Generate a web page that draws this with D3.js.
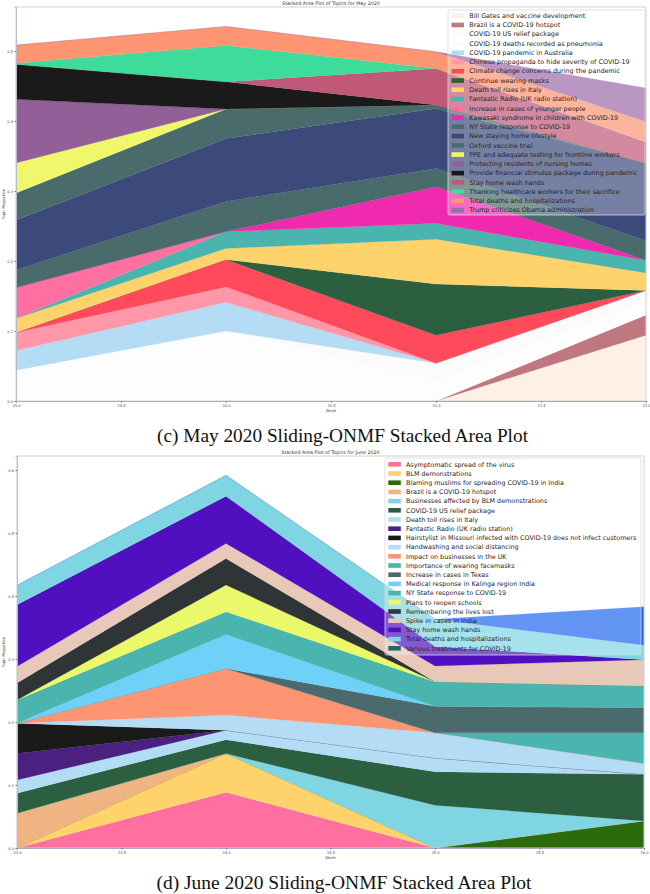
<!DOCTYPE html>
<html><head><meta charset="utf-8">
<script src="https://cdn.jsdelivr.net/npm/d3@7"></script>
<style>body{margin:0;background:#fff} svg{display:block}</style>
</head><body>
<svg id="c" width="650" height="894"></svg>
<script>
// ---------------- May 2020 ----------------
const mayWeeks = [19, 20, 21, 22];
const mayTopics = [
  "Bill Gates and vaccine development",
  "Brazil is a COVID-19 hotspot",
  "COVID-19 US relief package",
  "COVID-19 deaths recorded as pneumonia",
  "COVID-19 pandemic in Australia",
  "Chinese propaganda to hide severity of COVID-19",
  "Climate change concerns during the pandemic",
  "Continue wearing masks",
  "Death toll rises in Italy",
  "Fantastic Radio (UK radio station)",
  "Increase in cases of younger people",
  "Kawasaki syndrome in children with COVID-19",
  "NY State response to COVID-19",
  "New staying home lifestyle",
  "Oxford vaccine trial",
  "PPE and adequate testing for frontline workers",
  "Protecting residents of nursing homes",
  "Provide financial stimulus package during pandemic",
  "Stay home wash hands",
  "Thanking healthcare workers for their sacrifice",
  "Total deaths and hospitalizations",
  "Trump criticizes Obama administration"
];
const mayColors = ["#fdf0e6","#c07880","#fdfdfd","#fbfbfb","#b5dcf5","#ff97a8","#ff4a5c","#2b5f3f",
  "#ffd36b","#4ab5ae","#ff6fa0","#f02aae","#4a6b6b","#3b4a7b","#4a6b6b","#eef86a","#935f99",
  "#1a1a1a","#c05878","#3ddc9a","#fd9472","#9b6aa8"];
// one row per topic, values for weeks 19..22
const mayValues = [
  [0, 0, 0, 0.094],
  [0, 0, 0, 0.029],
  [0.044, 0.100, 0.030, 0.020],
  [0, 0, 0.024, 0.015],
  [0.028, 0.041, 0, 0],
  [0.026, 0.022, 0, 0],
  [0, 0.039, 0.040, 0],
  [0, 0, 0.073, 0],
  [0.020, 0.016, 0.064, 0.025],
  [0, 0.024, 0.023, 0.018],
  [0.044, 0, 0, 0],
  [0, 0, 0.052, 0],
  [0.025, 0.043, 0.026, 0.028],
  [0.0714, 0.090, 0.086, 0.111],
  [0.0386, 0.042, 0.005, 0],
  [0.043, 0, 0, 0],
  [0.091, 0, 0, 0],
  [0.050, 0.039, 0, 0],
  [0, 0, 0.052, 0.030],
  [0.0015, 0.052, 0, 0],
  [0.026, 0.027, 0.024, 0.029],
  [0, 0, 0, 0.048]
];
const mayXTicks = [19.0, 19.5, 20.0, 20.5, 21.0, 21.5, 22.0];
const mayYTicks = [0.0, 0.1, 0.2, 0.3, 0.4, 0.5];

// ---------------- June 2020 ----------------
const juneWeeks = [23, 24, 25, 26];
const juneTopics = [
  "Asymptomatic spread of the virus",
  "BLM demonstrations",
  "Blaming muslims for spreading COVID-19 in India",
  "Brazil is a COVID-19 hotspot",
  "Businesses affected by BLM demonstrations",
  "COVID-19 US relief package",
  "Death toll rises in Italy",
  "Fantastic Radio (UK radio station)",
  "Hairstylist in Missouri infected with COVID-19 does not infect customers",
  "Handwashing and social distancing",
  "Impact on businesses in the UK",
  "Importance of wearing facemasks",
  "Increase in cases in Texas",
  "Medical response in Kalinga region India",
  "NY State response to COVID-19",
  "Plans to reopen schools",
  "Remembering the lives lost",
  "Spike in cases in India",
  "Stay home wash hands",
  "Total deaths and hospitalizations",
  "Various treatments for COVID-19"
];
const juneColors = ["#ff6fa0","#ffd36b","#2d6a0e","#f0b482","#7fd6e2","#2b5f3f","#b5dcf5","#4a2080",
  "#1a1a1a","#b5dcf5","#fd9472","#4ab5ae","#4a6a6e","#6fd0f8","#4ab5ae","#eaf86a","#2f3436",
  "#e8c8b8","#5010c0","#7fd6e2","#1f66ee"];
// legend patch colours (as shown in the legend box)
const juneLegendColors = juneColors.slice(0, 20).concat(["#26656e"]);
// one row per topic, values for weeks 23..26
const juneValues = [
  [0, 0.0884, 0, 0],
  [0, 0.0616, 0, 0],
  [0, 0, 0, 0.043],
  [0.055, 0, 0, 0],
  [0, 0, 0.068, 0],
  [0.032, 0.022, 0.053, 0.074],
  [0.021, 0.015, 0.022, 0],
  [0.042, 0, 0, 0],
  [0.048, 0, 0, 0],
  [0, 0.024, 0.040, 0.017],
  [0, 0.074, 0, 0],
  [0, 0, 0, 0.049],
  [0, 0, 0.042, 0.040],
  [0, 0.054, 0, 0],
  [0.037, 0.036, 0.039, 0.034],
  [0, 0.0425, 0, 0],
  [0.027, 0.042, 0, 0],
  [0.026, 0.024, 0.025, 0.042],
  [0.098, 0.075, 0.031, 0],
  [0.031, 0.033, 0.043, 0.023],
  [0, 0, 0, 0.061]
];
const juneXTicks = [23.0, 23.5, 24.0, 24.5, 25.0, 25.5, 26.0];
const juneYTicks = [0.0, 0.1, 0.2, 0.3, 0.4, 0.5, 0.6];

const svg = d3.select("#c");

function drawChart(cfg) {
  const g = svg.append("g");
  const x = d3.scaleLinear().domain(cfg.xDomain).range([cfg.left, cfg.right]);
  const y = d3.scaleLinear().domain([0, cfg.yMax]).range([cfg.bottom, cfg.top]);

  const rows = cfg.weeks.map((w, i) => {
    const r = {week: w};
    cfg.topics.forEach((t, k) => r[t] = cfg.values[k][i]);
    return r;
  });
  const series = d3.stack().keys(cfg.topics)(rows);
  const area = d3.area()
    .x(d => x(d.data.week))
    .y0(d => y(d[0]))
    .y1(d => y(d[1]));

  g.append("g").selectAll("path").data(series).join("path")
    .attr("d", area)
    .attr("fill", (d, i) => cfg.colors[i])
    .attr("stroke", (d, i) => cfg.colors[i])
    .attr("stroke-width", 0.2);

  // frame
  g.append("rect").attr("x", cfg.left).attr("y", cfg.top)
    .attr("width", cfg.right - cfg.left).attr("height", cfg.bottom - cfg.top)
    .attr("fill", "none").attr("stroke", "#d2d2d2").attr("stroke-width", 1);

  const xa = g.append("g").attr("transform", `translate(0,${cfg.bottom})`)
    .call(d3.axisBottom(x).tickValues(cfg.xTicks).tickFormat(d3.format(".1f")).tickSize(1.5).tickPadding(1.5));
  const ya = g.append("g").attr("transform", `translate(${cfg.left},0)`)
    .call(d3.axisLeft(y).tickValues(cfg.yTicks).tickFormat(d3.format(".1f")).tickSize(1.5).tickPadding(1.5));
  xa.select(".domain").attr("stroke", "#a8aac8").attr("stroke-width", 1);
  ya.select(".domain").attr("stroke", "#b8bacc").attr("stroke-width", 1);
  [xa, ya].forEach(a => {
    a.selectAll(".tick line").attr("stroke", "#777");
    a.selectAll("text").attr("font-family", "DejaVu Sans").attr("font-size", 3.7).attr("fill", "#444");
  });

  g.append("text").attr("x", (cfg.left + cfg.right) / 2).attr("y", cfg.top - 2)
    .attr("text-anchor", "middle").attr("font-family", "DejaVu Sans").attr("font-size", 4.8)
    .attr("fill", "#333").text(cfg.title);
  g.append("text").attr("x", (cfg.left + cfg.right) / 2).attr("y", cfg.bottom + 11)
    .attr("text-anchor", "middle").attr("font-family", "DejaVu Sans").attr("font-size", 3.8)
    .attr("fill", "#444").text("Week");
  g.append("text").attr("transform", `translate(5,${(cfg.top + cfg.bottom) / 2}) rotate(-90)`)
    .attr("text-anchor", "middle").attr("font-family", "DejaVu Sans").attr("font-size", 3.8)
    .attr("fill", "#444").text("Topic Proportion");

  // legend
  const L = cfg.legend;
  const lg = g.append("g");
  lg.append("rect").attr("x", L.x).attr("y", L.y).attr("width", L.w).attr("height", L.h)
    .attr("fill", "#fff").attr("fill-opacity", 0.3).attr("stroke", "#d8d8d8").attr("stroke-width", 0.8)
    .attr("rx", 1.5);
  cfg.topics.forEach((t, i) => {
    const cy = L.firstRow + i * L.step;
    lg.append("rect").attr("x", L.patchX).attr("y", cy - 2.3).attr("width", 12.5).attr("height", 4.6)
      .attr("fill", cfg.legendColors[i]);
    lg.append("text").attr("x", L.textX).attr("y", cy + 2.2)
      .attr("font-family", "DejaVu Sans").attr("font-size", L.fs).attr("fill", "#262626").text(t);
  });

  // caption
  svg.append("text").attr("x", cfg.capX).attr("y", cfg.capY).attr("text-anchor", "middle")
    .attr("font-family", "Liberation Serif").attr("font-size", 18).attr("fill", "#111")
    .attr("textLength", cfg.capW).attr("lengthAdjust", "spacingAndGlyphs")
    .text(cfg.caption);
}

drawChart({
  weeks: mayWeeks, topics: mayTopics, colors: mayColors, legendColors: mayColors, values: mayValues,
  xTicks: mayXTicks, yTicks: mayYTicks, xDomain: [19, 22],
  left: 16, right: 646, top: 7, bottom: 401, yMax: 394 / 700,
  title: "Stacked Area Plot of Topics for May 2020",
  legend: {x: 448, y: 10, w: 197, h: 205, patchX: 451.5, textX: 469.3, firstRow: 15.7, step: 9.26, fs: 6.45},
  caption: "(c) May 2020 Sliding-ONMF Stacked Area Plot", capX: 342.5, capY: 442, capW: 371
});
drawChart({
  weeks: juneWeeks, topics: juneTopics, colors: juneColors, legendColors: juneLegendColors, values: juneValues,
  xTicks: juneXTicks, yTicks: juneYTicks, xDomain: [23, 26],
  left: 17, right: 644, top: 456, bottom: 848, yMax: 392 / 630,
  title: "Stacked Area Plot of Topics for June 2020",
  legend: {x: 385, y: 458, w: 256, h: 197, patchX: 388.3, textX: 406, firstRow: 464.3, step: 9.2, fs: 6.4},
  caption: "(d) June 2020 Sliding-ONMF Stacked Area Plot", capX: 344, capY: 889, capW: 375
});
</script>
</body></html>
